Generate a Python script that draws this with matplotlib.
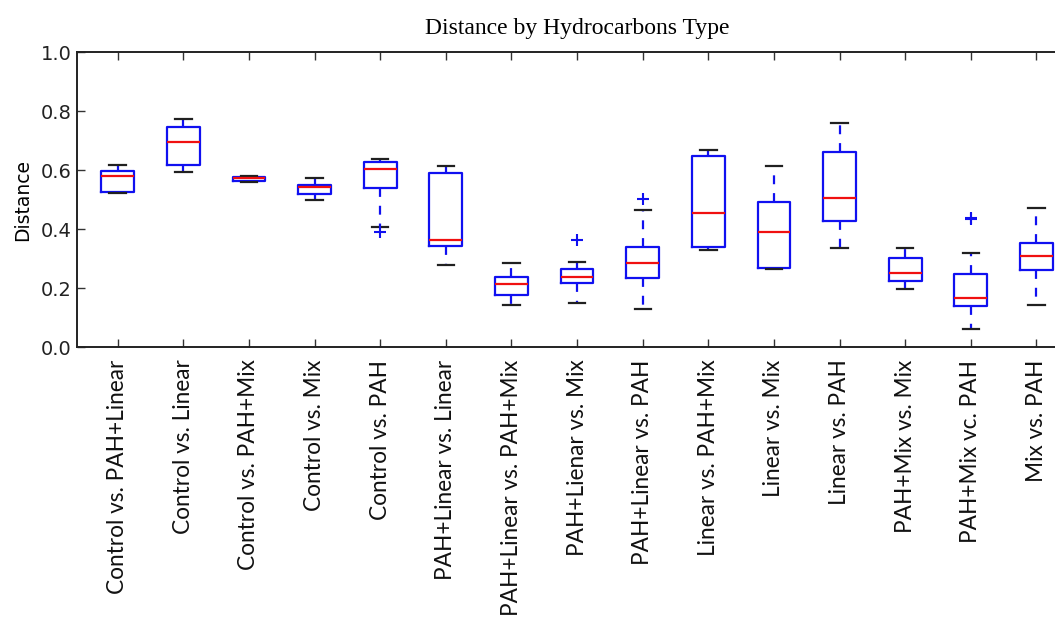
import matplotlib
matplotlib.use("Agg")
import matplotlib.pyplot as plt

# pairwise distance summaries per hydrocarbon comparison
labels = ["Control vs. PAH+Linear", "Control vs. Linear", "Control vs. PAH+Mix",
          "Control vs. Mix", "Control vs. PAH", "PAH+Linear vs. Linear",
          "PAH+Linear vs. PAH+Mix", "PAH+Lienar vs. Mix", "PAH+Linear vs. PAH",
          "Linear vs. PAH+Mix", "Linear vs. Mix", "Linear vs. PAH",
          "PAH+Mix vs. Mix", "PAH+Mix vc. PAH", "Mix vs. PAH"]
whislo = [0.522, 0.593, 0.561, 0.498, 0.406, 0.279, 0.141, 0.150, 0.129, 0.328, 0.264, 0.337, 0.197, 0.061, 0.144]
q1     = [0.524, 0.616, 0.563, 0.518, 0.539, 0.341, 0.176, 0.216, 0.235, 0.339, 0.268, 0.428, 0.225, 0.138, 0.260]
med    = [0.581, 0.695, 0.574, 0.541, 0.604, 0.362, 0.212, 0.237, 0.285, 0.454, 0.390, 0.505, 0.251, 0.166, 0.309]
q3     = [0.595, 0.747, 0.578, 0.549, 0.626, 0.590, 0.237, 0.263, 0.340, 0.649, 0.490, 0.660, 0.302, 0.246, 0.354]
whishi = [0.616, 0.774, 0.580, 0.573, 0.638, 0.615, 0.285, 0.289, 0.463, 0.669, 0.612, 0.759, 0.334, 0.318, 0.471]
fliers = [[], [], [], [], [0.390], [], [], [0.362], [0.503], [], [], [], [], [0.433, 0.439], []]

stats = []
for i in range(len(labels)):
    stats.append(dict(label=labels[i], whislo=whislo[i], q1=q1[i], med=med[i],
                      q3=q3[i], whishi=whishi[i], fliers=fliers[i]))

fig = plt.figure(figsize=(10.55, 6.2), dpi=100)
ax = fig.add_axes([0.073, 0.4403, 0.948, 0.4758])

lw = 1.6
ax.bxp(stats, widths=0.5,
       boxprops=dict(color="#1010f0", linewidth=lw),
       medianprops=dict(color="#f01010", linewidth=lw),
       whiskerprops=dict(color="#1010f0", linewidth=lw, linestyle="--", dashes=(4, 4)),
       capprops=dict(color="#202020", linewidth=lw),
       flierprops=dict(marker="+", markeredgecolor="#1010f0", markersize=8, markeredgewidth=1.5))

ax.set_xlim(0.38, 15.62)
ax.set_ylim(0, 1.0)
ax.set_yticks([0.0, 0.2, 0.4, 0.6, 0.8, 1.0])
ax.set_yticklabels(["0.0", "0.2", "0.4", "0.6", "0.8", "1.0"], fontsize=14, color="#222222")
ax.set_xticklabels(labels, rotation=90, fontsize=16.3, family="Lato", color="#111111")
ax.tick_params(direction="in", length=6, width=1, top=True, right=True, colors="#333333")
ax.tick_params(axis="x", pad=9, labelcolor="#111111")
ax.tick_params(axis="y", pad=4, labelcolor="#222222")
for s in ax.spines.values():
    s.set_linewidth(1.4)
    s.set_color("#222222")

ax.set_ylabel("Distance", fontsize=13.5, labelpad=6)
ax.set_title("Distance by Hydrocarbons Type", family="Liberation Serif", fontsize=17, pad=13)

fig.savefig("out.png", dpi=100)
